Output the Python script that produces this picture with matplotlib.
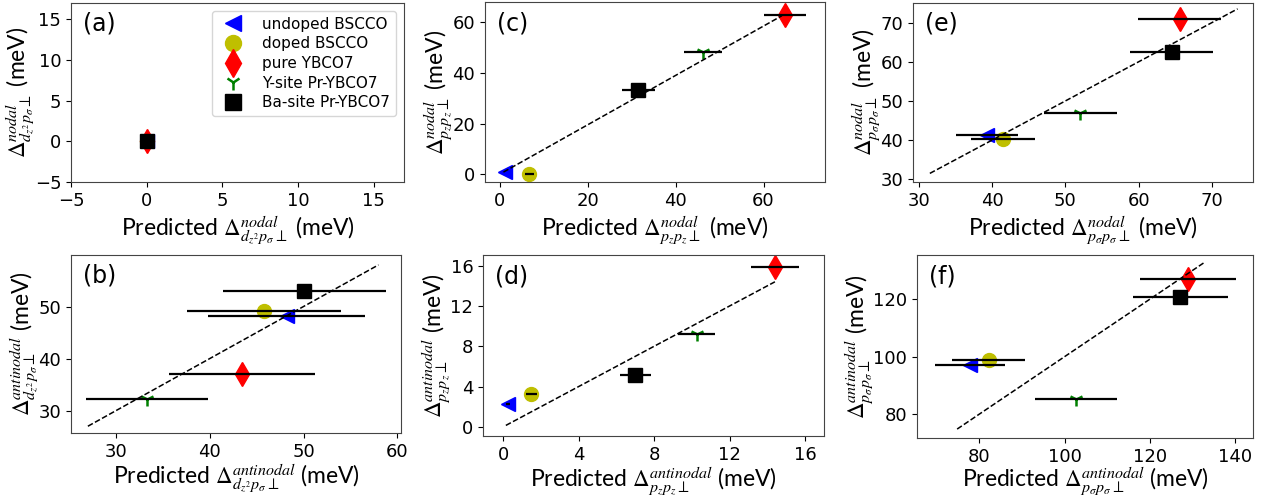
import numpy as np
import matplotlib.pyplot as plt

plt.rcParams['font.family'] = ['DejaVu Sans']
plt.rcParams['mathtext.fontset'] = 'stix'
plt.rcParams['axes.edgecolor'] = '#444444'

# series order: undoped BSCCO, doped BSCCO, pure YBCO7, Y-site Pr-YBCO7, Ba-site Pr-YBCO7
names = ['undoped BSCCO', 'doped BSCCO', 'pure YBCO7', 'Y-site Pr-YBCO7', 'Ba-site Pr-YBCO7']
markers = ['<', 'o', 'd', '1', 's']
colors = ['b', 'y', 'r', 'g', 'k']

# (a) nodal d_z2 p_sigma
a_x = [0, 0, 0, 0, 0]
a_y = [0, 0, 0, 0, 0]
a_err = [0, 0, 0, 0, 0]

# (b) antinodal d_z2 p_sigma
b_x = [48.2, 45.8, 43.4, 33.3, 50.1]
b_y = [48.2, 49.2, 37.0, 32.3, 52.9]
b_err = [8.4, 8.2, 7.8, 6.5, 8.7]
b_line = [27.0, 58.0]

# (c) nodal p_z p_z
c_x = [1.1, 6.7, 64.8, 46.2, 31.5]
c_y = [0.9, 0.3, 62.8, 48.4, 33.4]
c_err = [0.0, 1.1, 4.8, 4.35, 3.75]
c_line_x = [0.8, 64.2]
c_line_y = [0.9, 62.5]

# (d) antinodal p_z p_z
d_x = [0.26, 1.5, 14.41, 10.25, 7.01]
d_y = [2.32, 3.31, 15.83, 9.27, 5.16]
d_err = [0.1, 0.28, 1.28, 0.97, 0.84]
d_line = [0.15, 14.4]

# (e) nodal p_sigma p_sigma
e_x = [39.3, 41.5, 65.6, 52.05, 64.5]
e_y = [41.2, 40.4, 71.0, 47.0, 62.6]
e_err = [4.2, 4.4, 5.7, 5.0, 5.7]
e_line = [31.5, 73.5]

# (f) antinodal p_sigma p_sigma
f_x = [77.9, 82.2, 128.9, 102.7, 127.1]
f_y = [96.9, 98.9, 127.0, 85.3, 120.7]
f_err = [8.2, 8.6, 11.3, 9.65, 11.05]
f_line = [74.8, 132.5]

W, H = 1265, 504


def make_ax(fig, left, right, top, bottom):
    return fig.add_axes([left / W, 1 - bottom / H, (right - left) / W, (bottom - top) / H])


def draw(ax, x, y, err, lx, ly, xlim, ylim, ticks_x, ticks_y, tag, sub, state, xpad=3):
    for i in range(5):
        ms = 10 if markers[i] != 'd' else 12
        ax.plot(x[i], y[i], ls='none', marker=markers[i], color=colors[i],
                ms=ms, mew=1.8 if markers[i] == '1' else 1, label=names[i], zorder=2)
    ax.errorbar(x, y, xerr=err, fmt='none', ecolor='k', elinewidth=1.6, zorder=3)
    if lx is not None:
        ax.plot(lx, ly, 'k--', lw=1.1, zorder=4)
    ax.set_xlim(xlim)
    ax.set_ylim(ylim)
    ax.set_xticks(ticks_x)
    ax.set_yticks(ticks_y)
    ax.tick_params(labelsize=13)
    ax.text(0.035, 0.95, tag, transform=ax.transAxes, fontsize=17, va='top', ha='left')
    lab = r'$\Delta^{%s}_{%s\perp}$' % (state, sub)
    ax.set_xlabel('Predicted ' + lab + ' (meV)', fontsize=16.5, family='Lato', labelpad=xpad)
    ax.set_ylabel(lab + ' (meV)', fontsize=16.5, family='Lato', labelpad=-1)


fig = plt.figure(figsize=(12.65, 5.04), dpi=100)

dz = r'd_{z^2}p_{\sigma}'
pz = r'p_{z}p_{z}'
ps = r'p_{\sigma}p_{\sigma}'

ax = make_ax(fig, 71, 404, 3, 182)
draw(ax, a_x, a_y, a_err, None, None, (-5, 17), (-5, 17),
     [-5, 0, 5, 10, 15], [-5, 0, 5, 10, 15], '(a)', dz, 'nodal')
ax.legend(loc='upper right', fontsize=11, handletextpad=0.9, labelspacing=0.3,
          borderpad=0.4, borderaxespad=0.5, markerscale=1.15)

ax = make_ax(fig, 71, 401, 255, 433)
draw(ax, b_x, b_y, b_err, b_line, b_line, (25.2, 60.4), (25.7, 59.9),
     [30, 40, 50, 60], [30, 40, 50], '(b)', dz, 'antinodal', xpad=1)

ax = make_ax(fig, 485, 825, 2, 182)
draw(ax, c_x, c_y, c_err, c_line_x, c_line_y, (-3.4, 74.0), (-3.0, 67.9),
     [0, 20, 40, 60], [0, 20, 40, 60], '(c)', pz, 'nodal')

ax = make_ax(fig, 483, 824, 255, 436)
draw(ax, d_x, d_y, d_err, d_line, d_line, (-1.06, 17.0), (-0.9, 17.06),
     [0, 4, 8, 12, 16], [0, 4, 8, 12, 16], '(d)', pz, 'antinodal', xpad=1)

ax = make_ax(fig, 913, 1253, 3, 182)
draw(ax, e_x, e_y, e_err, e_line, e_line, (29.2, 75.6), (29.3, 75.0),
     [30, 40, 50, 60, 70], [30, 40, 50, 60, 70], '(e)', ps, 'nodal')

ax = make_ax(fig, 917, 1253, 255, 438)
draw(ax, f_x, f_y, f_err, f_line, f_line, (65.4, 144.1), (71.7, 135.3),
     [80, 100, 120, 140], [80, 100, 120], '(f)', ps, 'antinodal', xpad=0)

fig.savefig('out.png', dpi=100)
